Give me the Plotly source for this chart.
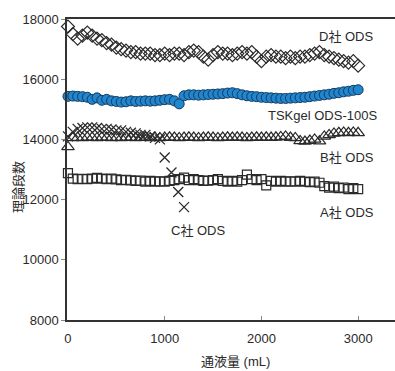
import plotly.graph_objects as go

# ---- data ----
volume = [i * 50 for i in range(61)]  # 0..3000 mL

d_ods = [17750, 17500, 17350, 17450, 17550, 17450, 17350, 17300, 17200, 17150,
         17050, 17000, 16950, 16900, 16900, 16850, 16850, 16850, 16800, 16800,
         16850, 16800, 16850, 16850, 16800, 16900, 16950, 16900, 16750, 16650,
         16800, 16900, 16850, 16850, 16800, 16850, 16900, 16850, 16900, 16750,
         16600, 16750, 16800, 16750, 16750, 16700, 16750, 16700, 16750, 16750,
         16800, 16850, 16900, 16800, 16750, 16700, 16650, 16600, 16550, 16600,
         16450]

tskgel = [15430, 15440, 15430, 15420, 15400, 15330, 15380, 15300, 15330, 15280,
          15260, 15240, 15250, 15280, 15260, 15270, 15280, 15270, 15280, 15300,
          15320, 15330, 15280, 15180, 15450, 15480, 15480, 15470, 15480, 15490,
          15500, 15510, 15520, 15540, 15550, 15520, 15480, 15450, 15430, 15420,
          15400, 15390, 15380, 15370, 15360, 15360, 15370, 15380, 15390, 15400,
          15420, 15440, 15460, 15480, 15500, 15530, 15550, 15580, 15600, 15630,
          15650]

b_ods = [13750, 14050, 14060, 14050, 14070, 14060, 14050, 14070, 14060, 14050,
         14060, 14050, 14070, 14060, 14050, 14060, 14070, 14050, 14060, 14050,
         14060, 14070, 14060, 14050, 14060, 14070, 14060, 14050, 14060, 14070,
         14060, 14050, 14060, 14070, 14060, 14070, 14060, 14050, 14060, 14070,
         14060, 14070, 14060, 14070, 14080, 14100, 14060, 14050, 13950, 13930,
         13960, 14000, 13940, 14100, 14150, 14200, 14220, 14230, 14220, 14230,
         14220]

c_volume = [0, 50, 100, 150, 200, 250, 300, 350, 400, 450,
            500, 550, 600, 650, 700, 750, 800, 850, 900, 950,
            1000, 1070, 1140, 1200]
c_ods = [14100, 14250, 14350, 14380, 14400, 14400, 14380, 14350, 14350, 14330,
         14300, 14300, 14250, 14220, 14200, 14150, 14150, 14100, 14050, 14000,
         13400, 12900, 12250, 11750]

a_ods = [12880, 12700, 12680, 12690, 12680, 12700, 12720, 12700, 12680, 12700,
         12670, 12650, 12660, 12640, 12620, 12630, 12600, 12620, 12600, 12610,
         12600, 12620, 12650, 12680, 12730, 12650, 12680, 12650, 12620, 12630,
         12650, 12680, 12620, 12600, 12620, 12600, 12650, 12830, 12680, 12650,
         12680, 12470, 12620, 12600, 12620, 12600, 12610, 12600, 12620, 12600,
         12580, 12600, 12560, 12450, 12400, 12430, 12380, 12400, 12350, 12380,
         12350]

labels = ["D社 ODS", "TSKgel ODS-100S", "B社 ODS", "A社 ODS", "C社 ODS"]

FONT = "Liberation Sans, Arial, Noto Sans CJK JP, sans-serif"
INK = "#2a2a2a"

fig = go.Figure()

fig.add_trace(go.Scatter(x=volume, y=d_ods, mode="markers", cliponaxis=False,
                         marker=dict(symbol="diamond-open", size=10, color=INK,
                                     line=dict(width=1.2, color=INK))))
fig.add_trace(go.Scatter(x=volume, y=tskgel, mode="markers", cliponaxis=False,
                         marker=dict(symbol="circle", size=10, color="#1f86cf",
                                     line=dict(width=1, color="#163a5c"))))
fig.add_trace(go.Scatter(x=volume, y=b_ods, mode="markers", cliponaxis=False,
                         marker=dict(symbol="triangle-up-open", size=11, color=INK,
                                     line=dict(width=1.2, color=INK))))
fig.add_trace(go.Scatter(x=c_volume, y=c_ods, mode="markers", cliponaxis=False,
                         marker=dict(symbol="x-thin-open", size=10, color=INK,
                                     line=dict(width=1.3, color=INK))))
fig.add_trace(go.Scatter(x=volume, y=a_ods, mode="markers", cliponaxis=False,
                         marker=dict(symbol="square-open", size=9, color=INK,
                                     line=dict(width=1.2, color=INK))))

# label positions (data coordinates)
label_pos = [(3186, 17430, "right"), (3216, 14800, "right"), (3186, 13400, "right"),
             (3186, 11570, "right"), (1040, 10970, "left")]
for text, (x, y, anc) in zip(labels, label_pos):
    fig.add_annotation(x=x, y=y, xref="x", yref="y", text=text, showarrow=False,
                       xanchor=anc, yanchor="middle",
                       font=dict(family=FONT, size=13, color=INK))

W, H = 395, 371
L, R, T, B = 67, 0, 19, 51
pw, ph = W - L - R, H - T - B

fig.add_annotation(x=(18 - L) / pw, y=(H - B - 187) / ph, xref="paper", yref="paper",
                   text="理論段数", textangle=-90, showarrow=False,
                   xanchor="center", yanchor="middle",
                   font=dict(family=FONT, size=13, color=INK))
fig.add_annotation(x=(235 - L) / pw, y=(H - B - 361) / ph, xref="paper", yref="paper",
                   text="通液量 (mL)", showarrow=False,
                   xanchor="center", yanchor="middle",
                   font=dict(family=FONT, size=13, color=INK))

fig.update_layout(
    width=W, height=H,
    margin=dict(l=L, r=R, t=T, b=B, pad=0),
    plot_bgcolor="white", paper_bgcolor="white",
    showlegend=False,
    font=dict(family=FONT, size=12, color=INK),
)
fig.update_xaxes(range=[-10, 3381], tickvals=[0, 1000, 2000, 3000], tickformat="d",
                 showgrid=False, zeroline=False, showline=True, linecolor="#333",
                 linewidth=1.5, mirror=True, ticks="inside", ticklen=4,
                 tickcolor="#888", ticklabelstandoff=6,
                 tickfont=dict(family=FONT, size=13, color=INK))
fig.update_yaxes(range=[8000, 18000], tickvals=[8000, 10000, 12000, 14000, 16000, 18000],
                 tickformat="d",
                 showgrid=False, zeroline=False, showline=True, linecolor="#333",
                 linewidth=1.5, ticks="outside", ticklen=4, tickcolor="#888",
                 tickfont=dict(family=FONT, size=13, color=INK))

fig.write_html("out.html")
